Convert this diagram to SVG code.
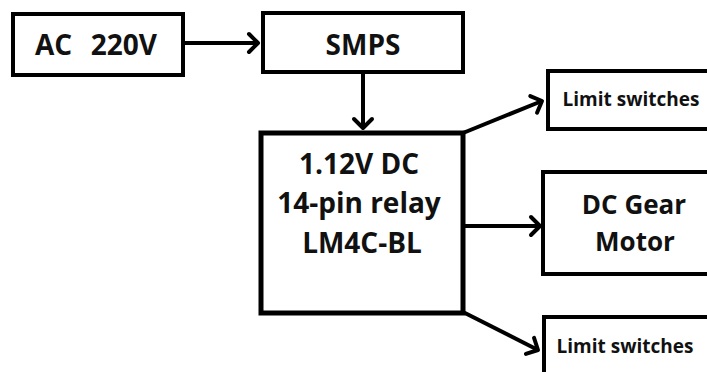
<svg xmlns="http://www.w3.org/2000/svg" width="707" height="372" viewBox="0 0 707 372">
<style>
.box{fill:#fff;stroke:#000;stroke-width:4}
.t{font-family:"Open Sans","Liberation Sans",sans-serif;font-weight:700;fill:#111;text-anchor:middle}
.c{stroke:#000;stroke-width:4;fill:none}
</style>
<defs>
<marker id="ah" markerUnits="userSpaceOnUse" markerWidth="20" markerHeight="24" refX="12" refY="12" orient="auto">
<polyline points="3,3 12,12 3,21" fill="none" stroke="#000" stroke-width="4" stroke-linecap="round" stroke-linejoin="round"/>
</marker>
</defs>
<rect width="707" height="372" fill="#fff"/>
<g id="connectors">
<line class="c" x1="185" y1="43" x2="258" y2="43" marker-end="url(#ah)"/>
<line class="c" x1="363" y1="74" x2="363" y2="128" marker-end="url(#ah)"/>
<line class="c" x1="463" y1="133" x2="542" y2="101" marker-end="url(#ah)"/>
<line class="c" x1="463" y1="226" x2="540" y2="226" marker-end="url(#ah)"/>
<line class="c" x1="463" y1="312" x2="538" y2="350" marker-end="url(#ah)"/>
</g>
<g id="ac">
<rect class="box" x="13" y="14" width="170" height="61"/>
<text class="t" x="96" y="55" font-size="28" xml:space="preserve" style="word-spacing:2px">AC  220V</text>
</g>
<g id="smps">
<rect class="box" x="263" y="13" width="200" height="59"/>
<text class="t" x="363" y="55" font-size="28">SMPS</text>
</g>
<g id="relay">
<rect class="box" x="261" y="133" width="202" height="180" style="stroke-width:5"/>
<text class="t" x="359" y="174" font-size="28">1.12V DC</text>
<text class="t" x="359" y="213" font-size="28">14-pin relay</text>
<text class="t" x="362" y="253" font-size="28">LM4C-BL</text>
</g>
<g id="ls1">
<rect class="box" x="548" y="71" width="170" height="58"/>
<text class="t" x="631" y="106" font-size="19">Limit switches</text>
</g>
<g id="motor">
<rect class="box" x="543" y="172" width="180" height="102"/>
<text class="t" x="634" y="214" font-size="26">DC Gear</text>
<text class="t" x="635" y="251" font-size="26">Motor</text>
</g>
<g id="ls2">
<rect class="box" x="544" y="317" width="180" height="80"/>
<text class="t" x="625" y="353" font-size="19">Limit switches</text>
</g>
</svg>
